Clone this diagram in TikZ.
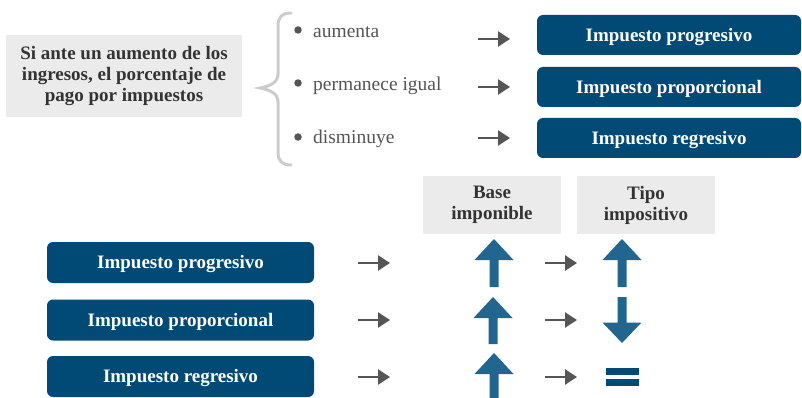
\documentclass[tikz,border=0pt]{standalone}
\usepackage{fontspec}
\setmainfont{Liberation Serif}
\usetikzlibrary{arrows.meta}

\definecolor{taxblue}{HTML}{004A75}
\definecolor{arrowblue}{HTML}{22668F}
\definecolor{panelgray}{HTML}{EBEBEB}
\definecolor{textgray}{HTML}{555555}
\definecolor{darktext}{HTML}{333333}
\definecolor{bracegray}{HTML}{CCCCCC}

\begin{document}
\begin{tikzpicture}[x=1pt, y=-1pt,
  bluebox/.style={fill=taxblue, rounded corners=6pt, text=white, inner sep=0pt,
    font=\bfseries\fontsize{19}{21}\selectfont, text height=12.5pt, text depth=0pt},
  graybox/.style={fill=panelgray, text=darktext, align=center, inner sep=0pt,
    font=\bfseries\fontsize{19}{21}\selectfont},
  choice/.style={anchor=base west, text=textgray, inner sep=0pt,
    font=\fontsize{19.5}{22}\selectfont},
  dot/.style={circle, fill=textgray, inner sep=0pt, minimum size=7.5pt},
  grayarrow/.style={textgray, line width=2.5pt, -{Triangle[length=12pt, width=15pt]}},
]
  \useasboundingbox (0,0) rectangle (802,398);

  % Define the question box and the brace
  \node[graybox, minimum width=236pt, minimum height=82pt] (question) at (124,76)
    {Si ante un aumento de los\\ingresos, el porcentaje de\\pago por impuestos};
  \draw[bracegray, line width=3pt, line cap=round]
    (291,13) .. controls (282,13) and (278,17) .. (278,26) -- (278,74)
    .. controls (278,82) and (271,86) .. (260,88)
    .. controls (271,90) and (278,94) .. (278,102) -- (278,152)
    .. controls (278,161) and (282,165) .. (291,165);

  % Draw the three choices with their bullets
  \node[dot] (dot1) at (298,30) {};
  \node[dot] (dot2) at (298,83) {};
  \node[dot] (dot3) at (298,137) {};
  \node[choice] (rise) at (313,38) {aumenta};
  \node[choice] (same) at (313,91) {permanece igual};
  \node[choice] (fall) at (313,144) {disminuye};

  % Define the top result boxes
  \node[bluebox, minimum width=264pt, minimum height=40pt] (topprog) at (669,35) {Impuesto progresivo};
  \node[bluebox, minimum width=264pt, minimum height=40pt] (topprop) at (669,87) {Impuesto proporcional};
  \node[bluebox, minimum width=264pt, minimum height=40pt] (topregr) at (669,138) {Impuesto regresivo};

  % Draw the top arrows
  \foreach \y [count=\i] in {39,87,138} {
    \coordinate (tail\i) at (478,\y);
    \coordinate (head\i) at (510,\y);
    \draw[grayarrow] (tail\i) -- (head\i);
  }

  % Define the column headers
  \node[graybox, minimum width=138pt, minimum height=58pt] (base) at (492,205) {Base\\imponible};
  \node[graybox, minimum width=138pt, minimum height=58pt] (tipo) at (646,205) {Tipo\\impositivo};

  % Define the bottom tax boxes
  \node[bluebox, minimum width=267pt, minimum height=41pt] (prog) at (180.5,262.5) {Impuesto progresivo};
  \node[bluebox, minimum width=267pt, minimum height=41pt] (prop) at (180.5,320) {Impuesto proporcional};
  \node[bluebox, minimum width=267pt, minimum height=41pt] (regr) at (180.5,376.5) {Impuesto regresivo};

  % Draw the bottom arrows
  \foreach \y [count=\i] in {263,320,377} {
    \coordinate (left\i) at (358,\y);
    \coordinate (lefthead\i) at (390,\y);
    \coordinate (mid\i) at (545,\y);
    \coordinate (midhead\i) at (577,\y);
    \draw[grayarrow] (left\i) -- (lefthead\i);
    \draw[grayarrow] (mid\i) -- (midhead\i);
  }

  % Draw the blue up arrows
  \foreach \cx/\tip/\bot in {494/239/287, 493/297/344, 494/353/398, 622/239/287}
    \fill[arrowblue] (\cx,\tip) -- (\cx+19.5,\tip+21) -- (\cx+4.5,\tip+21) -- (\cx+4.5,\bot)
      -- (\cx-4.5,\bot) -- (\cx-4.5,\tip+21) -- (\cx-19.5,\tip+21) -- cycle;

  % Draw the down arrow and the equals sign
  \fill[arrowblue] (622,343) -- (641.5,322.5) -- (626.5,322.5) -- (626.5,297)
    -- (617.5,297) -- (617.5,322.5) -- (602.5,322.5) -- cycle;
  \fill[taxblue] (606,368) rectangle (639,375);
  \fill[taxblue] (606,379) rectangle (639,386);
\end{tikzpicture}
\end{document}
